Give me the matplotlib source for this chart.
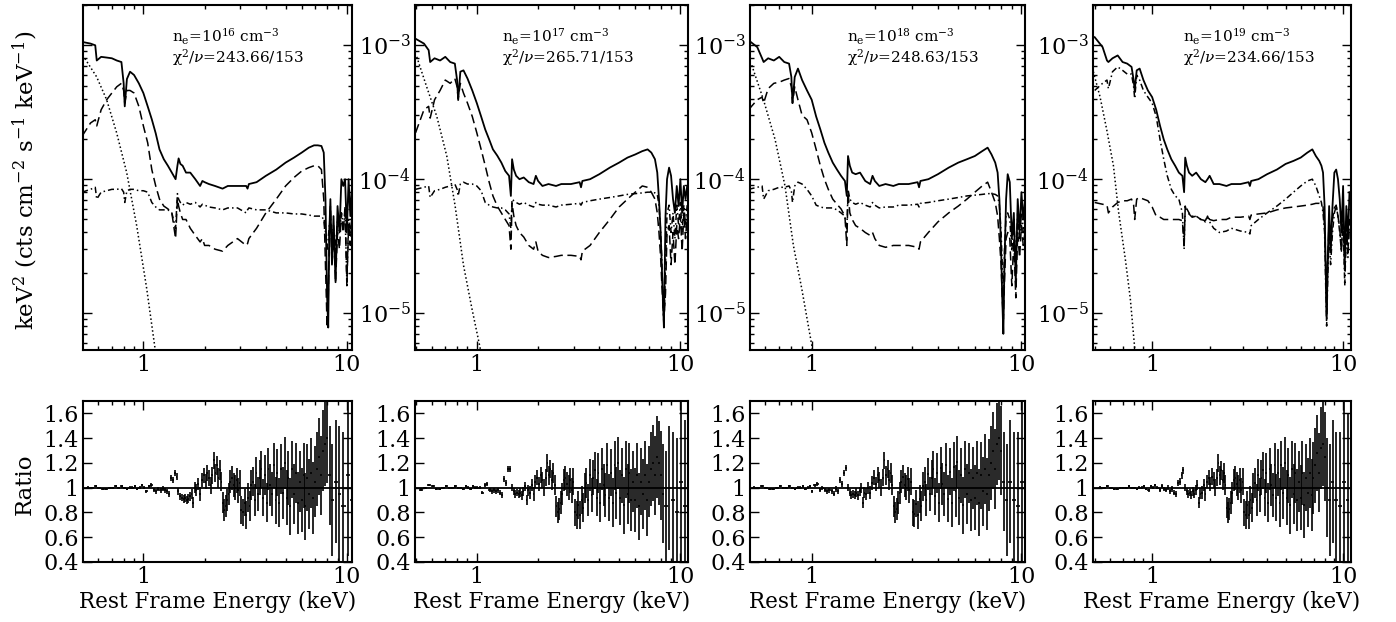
import numpy as np
import matplotlib
matplotlib.use("Agg")
import matplotlib.pyplot as plt
from matplotlib.ticker import FixedLocator, LogLocator, NullFormatter, FixedFormatter

plt.rcParams['font.family'] = ['DejaVu Serif']
plt.rcParams['mathtext.fontset'] = 'dejavuserif'

# ---------------- model spectra (units of 1e-4 keV^2 cts cm^-2 s^-1 keV^-1) ----------------
E_mod = [0.50, 0.55, 0.58, 0.59, 0.62, 0.66, 0.70, 0.74, 0.78, 0.80,
         0.81, 0.83, 0.86, 0.90, 0.95, 1.00, 1.05, 1.10, 1.15, 1.20,
         1.26, 1.32, 1.38, 1.44, 1.47, 1.49, 1.52, 1.56, 1.62, 1.70,
         1.80, 1.90, 1.95, 2.00, 2.10, 2.25, 2.45, 2.60, 2.90, 3.20,
         3.25, 3.30, 3.60, 4.00, 4.50, 5.00, 5.50, 6.00, 6.50, 6.90,
         7.20, 7.50, 7.70, 7.85, 8.00, 8.10, 8.20, 8.30, 8.45, 8.60,
         8.80, 9.00, 9.20, 9.40, 9.60, 9.80, 10.0, 10.2, 10.4, 10.6,
         10.8]

total_16 = [10.6, 10.3, 10.0, 7.7, 8.2, 8.1, 8.0, 7.7, 7.5, 5.2,
            3.5, 5.6, 6.35, 6.0, 5.2, 4.4, 3.5, 2.8, 2.2, 1.67,
            1.41, 1.26, 1.12, 1.0, 1.26, 1.43, 1.30, 1.26, 1.12, 1.12,
            1.0, 0.89, 0.97, 0.95, 0.92, 0.89, 0.85, 0.89, 0.89, 0.89,
            0.85, 0.92, 0.95, 1.06, 1.18, 1.33, 1.45, 1.58, 1.72, 1.79,
            1.79, 1.77, 1.58, 0.71, 0.13, 0.078, 0.40, 0.71, 0.23, 0.53,
            0.17, 0.63, 0.40, 1.0, 0.89, 1.0, 0.40, 1.0, 0.53, 0.89,
            0.71]
refl_16 = [2.1, 2.63, 2.78, 2.5, 3.3, 3.92, 4.4, 4.9, 5.2, 4.6,
           3.7, 4.6, 4.6, 4.4, 3.5, 2.5, 1.87, 1.18, 0.89, 0.71,
           0.63, 0.60, 0.56, 0.36, 0.71, 0.63, 0.56, 0.50, 0.50, 0.43,
           0.38, 0.34, 0.36, 0.32, 0.32, 0.30, 0.29, 0.32, 0.36, 0.32,
           0.33, 0.36, 0.43, 0.56, 0.71, 0.89, 1.03, 1.15, 1.22, 1.26,
           1.26, 1.18, 0.71, 0.23, 0.078, 0.13, 0.40, 0.63, 0.23, 0.40,
           0.17, 0.40, 0.30, 0.56, 0.40, 0.63, 0.16, 0.45, 0.32, 0.56,
           0.40]
pl_16 = [0.80, 0.84, 0.87, 0.71, 0.80, 0.82, 0.84, 0.84, 0.85, 0.80,
         0.67, 0.82, 0.84, 0.84, 0.82, 0.82, 0.80, 0.67, 0.62, 0.59,
         0.59, 0.59, 0.56, 0.43, 0.78, 0.71, 0.67, 0.64, 0.67, 0.65,
         0.67, 0.62, 0.65, 0.64, 0.62, 0.61, 0.59, 0.61, 0.61, 0.56,
         0.59, 0.61, 0.59, 0.59, 0.56, 0.56, 0.55, 0.55, 0.54, 0.53,
         0.53, 0.53, 0.50, 0.40, 0.30, 0.36, 0.45, 0.53, 0.36, 0.45,
         0.30, 0.50, 0.40, 0.56, 0.45, 0.56, 0.17, 0.50, 0.40, 0.53,
         0.48]

total_17 = [11.2, 10.3, 9.2, 7.5, 8.0, 7.7, 8.2, 7.5, 7.3, 5.5,
            3.9, 6.35, 6.5, 5.65, 4.6, 3.7, 2.94, 2.35, 1.98, 1.67,
            1.5, 1.33, 1.15, 1.06, 0.75, 1.41, 1.18, 1.06, 1.0, 1.03,
            0.95, 0.92, 1.06, 0.97, 0.89, 0.92, 0.89, 0.92, 0.92, 0.95,
            0.87, 0.97, 1.0, 1.09, 1.22, 1.33, 1.45, 1.53, 1.62, 1.67,
            1.58, 1.41, 1.12, 0.71, 0.40, 0.23, 0.13, 0.078, 0.53, 1.0,
            1.22, 1.06, 0.71, 0.56, 0.89, 0.63, 1.0, 0.56, 0.89, 0.71,
            0.89]
refl_17 = [2.22, 3.3, 3.5, 2.86, 3.92, 4.6, 5.5, 5.2, 5.65, 4.9,
           4.0, 5.2, 4.4, 3.7, 2.94, 2.22, 1.67, 1.26, 0.95, 0.75,
           0.63, 0.56, 0.50, 0.45, 0.30, 0.66, 0.53, 0.45, 0.40, 0.37,
           0.32, 0.30, 0.34, 0.29, 0.27, 0.26, 0.265, 0.27, 0.27, 0.265,
           0.25, 0.29, 0.32, 0.40, 0.50, 0.62, 0.71, 0.80, 0.89, 0.87,
           0.80, 0.71, 0.56, 0.40, 0.26, 0.17, 0.12, 0.09, 0.14, 0.40,
           0.45, 0.23, 0.40, 0.23, 0.45, 0.36, 0.53, 0.29, 0.56, 0.36,
           0.53]
pl_17 = [0.84, 0.87, 0.89, 0.73, 0.82, 0.84, 0.87, 0.89, 0.92, 0.84,
         0.75, 0.92, 0.95, 0.92, 0.92, 0.89, 0.82, 0.67, 0.64, 0.62,
         0.61, 0.61, 0.59, 0.55, 0.43, 0.71, 0.69, 0.67, 0.65, 0.67,
         0.64, 0.62, 0.67, 0.65, 0.64, 0.64, 0.62, 0.64, 0.65, 0.66,
         0.64, 0.67, 0.69, 0.71, 0.73, 0.75, 0.77, 0.78, 0.79, 0.80,
         0.80, 0.79, 0.77, 0.64, 0.40, 0.26, 0.13, 0.08, 0.23, 0.56,
         0.64, 0.40, 0.56, 0.36, 0.64, 0.45, 0.67, 0.40, 0.64, 0.45,
         0.64]

total_18 = [10.9, 9.7, 8.0, 7.5, 8.0, 7.7, 8.2, 7.5, 7.3, 5.8,
            3.7, 5.8, 6.7, 5.5, 4.6, 3.92, 2.94, 2.35, 1.87, 1.58,
            1.33, 1.18, 1.06, 0.97, 0.75, 1.49, 1.26, 1.12, 1.09, 1.12,
            0.97, 0.92, 1.06, 0.97, 0.89, 0.92, 0.89, 0.92, 0.92, 0.95,
            0.87, 0.97, 1.0, 1.09, 1.22, 1.33, 1.41, 1.49, 1.62, 1.72,
            1.53, 1.33, 1.12, 0.71, 0.30, 0.13, 0.07, 0.23, 0.71, 1.09,
            0.95, 0.36, 0.56, 0.17, 0.71, 0.40, 0.80, 0.50, 0.71, 0.62,
            0.71]
refl_18 = [3.3, 3.92, 4.1, 3.7, 4.75, 5.2, 5.3, 5.5, 5.65, 4.9,
           3.7, 4.9, 3.92, 3.0, 2.78, 2.22, 1.67, 1.26, 1.0, 0.84,
           0.71, 0.65, 0.60, 0.53, 0.32, 0.80, 0.56, 0.50, 0.45, 0.43,
           0.40, 0.38, 0.40, 0.36, 0.32, 0.31, 0.32, 0.32, 0.32, 0.31,
           0.30, 0.34, 0.40, 0.48, 0.56, 0.63, 0.71, 0.80, 0.89, 0.95,
           0.80, 0.67, 0.53, 0.36, 0.23, 0.13, 0.09, 0.17, 0.36, 0.40,
           0.36, 0.16, 0.36, 0.13, 0.40, 0.26, 0.45, 0.32, 0.40, 0.36,
           0.40]
pl_18 = [0.84, 0.87, 0.89, 0.71, 0.82, 0.84, 0.87, 0.87, 0.89, 0.82,
         0.67, 0.89, 0.95, 0.92, 0.84, 0.75, 0.64, 0.62, 0.61, 0.61,
         0.61, 0.59, 0.56, 0.53, 0.40, 0.84, 0.71, 0.67, 0.65, 0.67,
         0.64, 0.62, 0.67, 0.64, 0.61, 0.62, 0.62, 0.64, 0.64, 0.65,
         0.62, 0.66, 0.67, 0.69, 0.71, 0.73, 0.75, 0.76, 0.77, 0.78,
         0.78, 0.77, 0.75, 0.64, 0.40, 0.23, 0.13, 0.29, 0.53, 0.56,
         0.50, 0.29, 0.50, 0.23, 0.56, 0.36, 0.56, 0.40, 0.50, 0.45,
         0.50]

total_19 = [11.5, 9.7, 7.7, 7.5, 8.0, 8.4, 7.5, 7.3, 6.9, 5.5,
            4.6, 6.5, 6.7, 5.5, 4.6, 4.1, 3.3, 2.5, 1.98, 1.67,
            1.41, 1.26, 1.12, 1.06, 0.80, 1.45, 1.26, 1.12, 1.06, 1.12,
            1.0, 0.95, 1.0, 1.06, 0.92, 0.92, 0.89, 0.92, 0.92, 0.95,
            0.89, 0.97, 1.0, 1.09, 1.18, 1.30, 1.37, 1.45, 1.58, 1.67,
            1.49, 1.37, 1.26, 1.12, 0.63, 0.23, 0.09, 0.23, 0.63, 0.30,
            0.63, 1.12, 1.18, 1.0, 0.71, 0.40, 0.89, 0.23, 0.63, 0.36,
            0.80]
refl_19 = [4.6, 5.2, 5.5, 4.75, 6.35, 6.9, 6.5, 6.1, 6.1, 4.9,
           4.0, 6.0, 5.5, 4.6, 4.1, 3.7, 2.94, 1.98, 1.41, 1.06,
           0.84, 0.75, 0.71, 0.56, 0.30, 0.63, 0.60, 0.56, 0.53, 0.53,
           0.50, 0.48, 0.53, 0.48, 0.43, 0.40, 0.41, 0.43, 0.41, 0.40,
           0.39, 0.45, 0.50, 0.56, 0.63, 0.71, 0.80, 0.89, 0.97, 1.0,
           0.89, 0.75, 0.67, 0.56, 0.40, 0.17, 0.08, 0.17, 0.40, 0.23,
           0.40, 0.56, 0.63, 0.53, 0.40, 0.29, 0.56, 0.16, 0.40, 0.26,
           0.50]
pl_19 = [0.67, 0.65, 0.64, 0.56, 0.62, 0.67, 0.69, 0.69, 0.71, 0.64,
         0.50, 0.71, 0.73, 0.71, 0.69, 0.62, 0.53, 0.52, 0.50, 0.50,
         0.50, 0.50, 0.50, 0.49, 0.32, 0.63, 0.56, 0.55, 0.52, 0.53,
         0.50, 0.49, 0.53, 0.50, 0.49, 0.50, 0.50, 0.52, 0.52, 0.53,
         0.50, 0.54, 0.55, 0.56, 0.59, 0.61, 0.62, 0.63, 0.64, 0.65,
         0.66, 0.66, 0.65, 0.62, 0.45, 0.23, 0.10, 0.23, 0.50, 0.29,
         0.50, 0.61, 0.64, 0.53, 0.43, 0.29, 0.56, 0.20, 0.45, 0.29,
         0.50]

# blackbody (dotted) components
bb_E_16 = [0.516, 0.589, 0.66, 0.739, 0.828, 0.927, 1.038, 1.14, 1.20]
bb_F_16 = [7.96, 5.82, 3.92, 2.22, 1.12, 0.45, 0.153, 0.055, 0.03]
bb_E_17 = [0.507, 0.567, 0.636, 0.712, 0.782, 0.86, 0.945, 1.038, 1.10]
bb_F_17 = [8.2, 4.9, 2.94, 1.49, 0.635, 0.228, 0.109, 0.055, 0.03]
bb_E_18 = [0.518, 0.589, 0.669, 0.746, 0.818, 0.896, 1.0, 1.05]
bb_F_18 = [7.1, 3.92, 1.98, 0.89, 0.32, 0.153, 0.058, 0.03]
bb_E_19 = [0.492, 0.533, 0.578, 0.627, 0.667, 0.723, 0.768, 0.81, 0.85]
bb_F_19 = [6.35, 4.14, 2.35, 1.26, 0.57, 0.255, 0.129, 0.055, 0.03]

# ---------------- data / model ratio ----------------
ratio_edges = [0.520, 0.545, 0.570, 0.595, 0.620, 0.645, 0.670, 0.695, 0.720, 0.745,
               0.770, 0.795, 0.820, 0.845, 0.870, 0.895, 0.920, 0.945, 0.970, 0.995, 1.020,
               1.05, 1.08, 1.11, 1.14, 1.17, 1.20, 1.23, 1.26, 1.29, 1.32, 1.35, 1.38, 1.41,
               1.44, 1.47, 1.50, 1.53, 1.56, 1.59, 1.62, 1.65, 1.68, 1.71, 1.74, 1.77, 1.80,
               1.84, 1.88, 1.92, 1.96, 2.00, 2.04, 2.08, 2.12, 2.16, 2.20, 2.24, 2.28, 2.32,
               2.36, 2.40, 2.44, 2.48, 2.52, 2.56, 2.60,
               2.65, 2.70, 2.75, 2.80, 2.85, 2.90, 2.95, 3.00,
               3.06, 3.12, 3.18, 3.24, 3.30, 3.36, 3.42,
               3.49, 3.56, 3.63, 3.70, 3.77, 3.84,
               3.92, 4.00, 4.08, 4.16, 4.24,
               4.33, 4.42, 4.51, 4.60,
               4.70, 4.80, 4.90, 5.00,
               5.11, 5.22, 5.33, 5.44, 5.56, 5.68, 5.80, 5.93, 6.06, 6.19, 6.33, 6.47, 6.61,
               6.76, 6.91, 7.06, 7.22, 7.38, 7.55, 7.72, 7.90, 8.10, 8.35, 8.65, 9.00, 9.40,
               9.85, 10.35, 10.80]
ratio_err = [0.010, 0.008, 0.008, 0.008, 0.008, 0.008, 0.008, 0.008, 0.008, 0.009,
             0.009, 0.009, 0.009, 0.010, 0.010, 0.010, 0.011, 0.011, 0.012, 0.012,
             0.013, 0.014, 0.015, 0.016, 0.017, 0.018, 0.019, 0.020, 0.021, 0.022,
             0.023, 0.024, 0.025, 0.026, 0.027, 0.028, 0.029, 0.030, 0.031, 0.032,
             0.034, 0.036, 0.038, 0.040, 0.042, 0.045,
             0.05, 0.05, 0.055, 0.055, 0.06, 0.06, 0.065, 0.065, 0.07, 0.07,
             0.07, 0.075, 0.075, 0.08, 0.08, 0.08, 0.085, 0.085, 0.09, 0.09,
             0.09, 0.09, 0.095, 0.095, 0.10, 0.10, 0.10, 0.105,
             0.11, 0.11, 0.11, 0.115, 0.115, 0.12, 0.12,
             0.12, 0.13, 0.13, 0.14, 0.14, 0.15,
             0.15, 0.16, 0.16, 0.17, 0.17,
             0.18, 0.18, 0.19, 0.19,
             0.20, 0.20, 0.21, 0.21,
             0.22, 0.22, 0.23, 0.23, 0.24, 0.24, 0.25, 0.25, 0.26, 0.26, 0.27, 0.27,
             0.28, 0.28, 0.29, 0.29, 0.30, 0.31, 0.32, 0.33, 0.34, 0.36, 0.40, 0.45,
             0.50, 0.55, 0.60, 0.65, 0.70]

ratio_16 = [1.00, 1.00, 1.01, 1.00, 0.99, 0.99, 1.00, 1.00, 1.01, 1.00,
            1.01, 1.00, 0.99, 1.00, 1.00, 1.01, 0.99, 1.00, 1.02, 1.00,
            0.97, 1.01, 1.02, 0.98, 0.97, 0.99, 0.98, 0.99, 0.98, 0.97,
            0.95, 1.08, 1.06, 1.12, 1.09, 0.97, 0.93, 0.92, 0.91, 0.92,
            0.90, 0.91, 0.93, 0.95, 0.88, 1.00,
            0.98, 1.03, 0.95, 1.06, 1.10, 1.05, 1.12, 1.08, 1.02, 1.10,
            1.22, 1.12, 1.18, 1.08, 1.14, 1.05, 0.88, 0.82, 0.85, 0.90,
            0.95, 1.05, 1.08, 1.02, 1.00, 1.06, 0.98, 1.04,
            0.82, 0.80, 0.88, 0.78, 0.92, 0.85, 1.02,
            1.05, 0.90, 1.12, 0.95, 1.08, 1.15,
            0.92, 1.10, 0.88, 1.15, 1.02,
            0.95, 1.18, 0.90, 1.12,
            0.88, 1.15, 0.96, 1.20,
            0.92, 1.08, 0.85, 1.15, 0.95, 1.12, 0.88, 1.05, 0.90, 1.10, 0.85, 1.08,
            0.95, 1.12, 0.92, 1.05, 1.15, 1.25, 1.10, 1.30, 1.35, 1.40, 1.10, 0.90,
            1.05, 0.95, 0.85, 1.10, 0.90]
ratio_17 = [0.98, 1.00, 1.02, 1.01, 0.99, 0.99, 1.00, 1.01, 1.00, 1.00,
            1.01, 1.00, 1.00, 0.99, 1.01, 1.00, 0.99, 1.01, 1.00, 1.00,
            1.00, 0.96, 1.02, 1.03, 0.98, 0.97, 0.98, 0.97, 0.98, 0.96,
            0.94, 1.07, 1.04, 1.15, 1.15, 1.00, 0.97, 0.95, 0.96, 0.95,
            0.96, 0.94, 0.97, 1.01, 0.90, 0.98,
            0.96, 1.02, 0.95, 1.05, 1.08, 1.03, 1.10, 1.06, 1.00, 1.08,
            1.20, 1.10, 1.15, 1.06, 1.12, 1.02, 0.85, 0.80, 0.83, 0.88,
            0.95, 1.06, 1.08, 1.03, 1.00, 1.06, 0.98, 1.05,
            0.80, 0.78, 0.86, 0.78, 0.90, 0.84, 1.00,
            1.04, 0.90, 1.10, 0.94, 1.08, 1.14,
            0.92, 1.12, 0.88, 1.15, 1.02,
            0.94, 1.18, 0.92, 1.12,
            0.88, 1.18, 0.96, 1.20,
            0.92, 1.10, 0.86, 1.15, 0.95, 1.12, 0.90, 1.05, 0.90, 1.10, 0.85, 1.05,
            0.95, 1.10, 0.90, 1.05, 1.15, 1.20, 1.10, 1.25, 1.20, 1.10, 0.95, 0.85,
            1.00, 0.90, 0.80, 1.05, 0.85]
ratio_18 = [1.00, 1.00, 1.01, 1.00, 0.99, 0.99, 1.00, 1.01, 1.00, 1.00,
            1.01, 1.00, 0.99, 1.00, 1.00, 1.01, 0.99, 1.00, 1.01, 0.97,
            1.02, 1.03, 0.98, 1.00, 0.98, 0.97, 0.98, 0.97, 0.95, 0.99,
            0.97, 1.06, 1.03, 1.12, 1.16, 1.00, 0.96, 0.94, 0.95, 0.94,
            0.96, 0.94, 0.97, 1.00, 0.88, 0.96,
            0.95, 1.00, 0.96, 1.04, 1.08, 1.03, 1.10, 1.06, 1.00, 1.08,
            1.22, 1.10, 1.15, 1.06, 1.12, 1.02, 0.85, 0.80, 0.83, 0.88,
            0.96, 1.05, 1.09, 1.02, 1.00, 1.07, 0.98, 1.05,
            0.80, 0.79, 0.87, 0.78, 0.91, 0.85, 1.01,
            1.05, 0.90, 1.11, 0.95, 1.08, 1.15,
            0.93, 1.12, 0.88, 1.16, 1.03,
            0.95, 1.18, 0.91, 1.13,
            0.88, 1.17, 0.97, 1.21,
            0.92, 1.10, 0.86, 1.15, 0.95, 1.12, 0.90, 1.08, 0.92, 1.12, 0.88, 1.10,
            0.97, 1.15, 0.95, 1.10, 1.20, 1.30, 1.15, 1.35, 1.40, 1.30, 1.05, 0.90,
            1.05, 0.90, 0.85, 1.05, 0.90]
ratio_19 = [1.00, 1.00, 1.01, 1.00, 0.99, 0.99, 1.00, 1.00, 1.00, 1.01,
            1.00, 1.00, 0.99, 1.00, 1.00, 1.01, 0.99, 0.98, 1.01, 1.00,
            1.02, 1.00, 0.98, 1.01, 0.99, 0.98, 1.00, 0.97, 0.99, 0.96,
            0.95, 1.04, 1.05, 1.10, 1.14, 1.00, 0.97, 0.95, 0.96, 0.94,
            0.97, 0.95, 0.98, 1.02, 0.88, 0.95,
            0.96, 1.02, 0.95, 1.05, 1.08, 1.03, 1.09, 1.06, 1.00, 1.08,
            1.20, 1.10, 1.14, 1.06, 1.12, 1.02, 0.84, 0.80, 0.83, 0.88,
            0.96, 1.06, 1.08, 1.03, 1.00, 1.06, 0.98, 1.05,
            0.80, 0.78, 0.86, 0.78, 0.90, 0.84, 1.00,
            1.04, 0.90, 1.10, 0.94, 1.08, 1.14,
            0.92, 1.12, 0.88, 1.15, 1.02,
            0.94, 1.18, 0.92, 1.12,
            0.88, 1.18, 0.96, 1.20,
            0.92, 1.10, 0.86, 1.15, 0.95, 1.12, 0.90, 1.05, 0.92, 1.12, 0.86, 1.08,
            0.96, 1.12, 0.94, 1.08, 1.18, 1.28, 1.12, 1.32, 1.35, 1.25, 1.00, 0.90,
            1.05, 0.90, 0.85, 1.05, 0.90]

ne_labels = ['16', '17', '18', '19']
chi_labels = ['243.66/153', '265.71/153', '248.63/153', '234.66/153']

totals = [total_16, total_17, total_18, total_19]
refls = [refl_16, refl_17, refl_18, refl_19]
pls = [pl_16, pl_17, pl_18, pl_19]
bb_Es = [bb_E_16, bb_E_17, bb_E_18, bb_E_19]
bb_Fs = [bb_F_16, bb_F_17, bb_F_18, bb_F_19]
ratios = [ratio_16, ratio_17, ratio_18, ratio_19]

# ---------------- layout ----------------
W, H = 1396, 622
fig = plt.figure(figsize=(W / 100, H / 100), dpi=100)

panel_x = [(83, 352), (415, 688), (750, 1025), (1093, 1351)]
xlims = [(0.505, 10.6), (0.497, 10.9), (0.508, 10.4), (0.49, 11.0)]
top_y = (5, 350)
bot_y = (401, 562)
text_x = [0.331, 0.319, 0.353, 0.349]

LS_LONG = (0, (6, 3))
LS_DASHDOT = (0, (4, 2, 1, 2))
LS_DOT = (0, (1, 1.6))

def style_axis(ax):
    for s in ax.spines.values():
        s.set_linewidth(1.5)
    ax.tick_params(which='both', direction='in', top=True, right=True, width=1.0)
    ax.tick_params(which='major', length=6.5, labelsize=16, pad=3)
    ax.tick_params(which='minor', length=3.2)
    ax.set_xscale('log')
    ax.xaxis.set_major_locator(FixedLocator([1, 10]))
    ax.xaxis.set_major_formatter(FixedFormatter(['1', '10']))
    ax.xaxis.set_minor_locator(LogLocator(base=10, subs=np.arange(2, 10)))
    ax.xaxis.set_minor_formatter(NullFormatter())

Em = np.array(E_mod)
edges = np.array(ratio_edges)
cen = np.sqrt(edges[:-1] * edges[1:])
xlo = cen - edges[:-1]
xhi = edges[1:] - cen
err = np.array(ratio_err)

for i in range(4):
    x0, x1 = panel_x[i]
    # top panel
    ax = fig.add_axes([x0 / W, 1 - top_y[1] / H, (x1 - x0) / W, (top_y[1] - top_y[0]) / H])
    style_axis(ax)
    ax.set_yscale('log')
    ax.set_ylim(5.3e-6, 2.0e-3)
    ax.set_xlim(*xlims[i])
    ax.yaxis.set_minor_locator(LogLocator(base=10, subs=np.arange(2, 10)))
    ax.yaxis.set_minor_formatter(NullFormatter())
    if i == 0:
        ax.set_yticklabels([])
    ls_a, ls_b = (LS_LONG, LS_DASHDOT) if i < 3 else (LS_DASHDOT, LS_LONG)
    ax.plot(Em, np.array(totals[i]) * 1e-4, color='k', lw=1.3, ls='-')
    ax.plot(Em, np.array(refls[i]) * 1e-4, color='k', lw=1.1, ls=ls_a)
    ax.plot(Em, np.array(pls[i]) * 1e-4, color='k', lw=1.1, ls=ls_b)
    ax.plot(np.array(bb_Es[i]), np.array(bb_Fs[i]) * 1e-4, color='k', lw=1.1, ls=LS_DOT)
    ax.text(text_x[i], 0.907, r'n$_\mathrm{e}$=10$^{%s}$ cm$^{-3}$' % ne_labels[i],
            transform=ax.transAxes, fontsize=11, ha='left', va='center')
    ax.text(text_x[i], 0.849, r'$\mathrm{\chi}^2/\nu$=' + chi_labels[i],
            transform=ax.transAxes, fontsize=11, ha='left', va='center')

    # bottom (ratio) panel
    axr = fig.add_axes([x0 / W, 1 - bot_y[1] / H, (x1 - x0) / W, (bot_y[1] - bot_y[0]) / H])
    style_axis(axr)
    axr.set_xlim(*xlims[i])
    axr.set_ylim(0.4, 1.7)
    axr.set_yticks([0.4, 0.6, 0.8, 1.0, 1.2, 1.4, 1.6])
    axr.set_yticklabels(['0.4', '0.6', '0.8', '1', '1.2', '1.4', '1.6'])
    axr.axhline(1.0, color='k', lw=1.3)
    r = np.array(ratios[i])
    n = min(len(r), len(cen), len(err))
    axr.errorbar(cen[:n], r[:n], yerr=err[:n], xerr=[xlo[:n], xhi[:n]], fmt='none',
                 ecolor='k', elinewidth=1.2, capsize=0)
    axr.set_xlabel('Rest Frame Energy (keV)', fontsize=15.5, labelpad=2)

fig.text(25 / W, 1 - 180 / H, r'keV$^2$ (cts cm$^{-2}$ s$^{-1}$ keV$^{-1}$)', rotation=90,
         fontsize=16.5, ha='center', va='center')
fig.text(25 / W, 1 - 484 / H, 'Ratio', rotation=90, fontsize=16.5, ha='center', va='center')

fig.savefig('out.png', dpi=100)
